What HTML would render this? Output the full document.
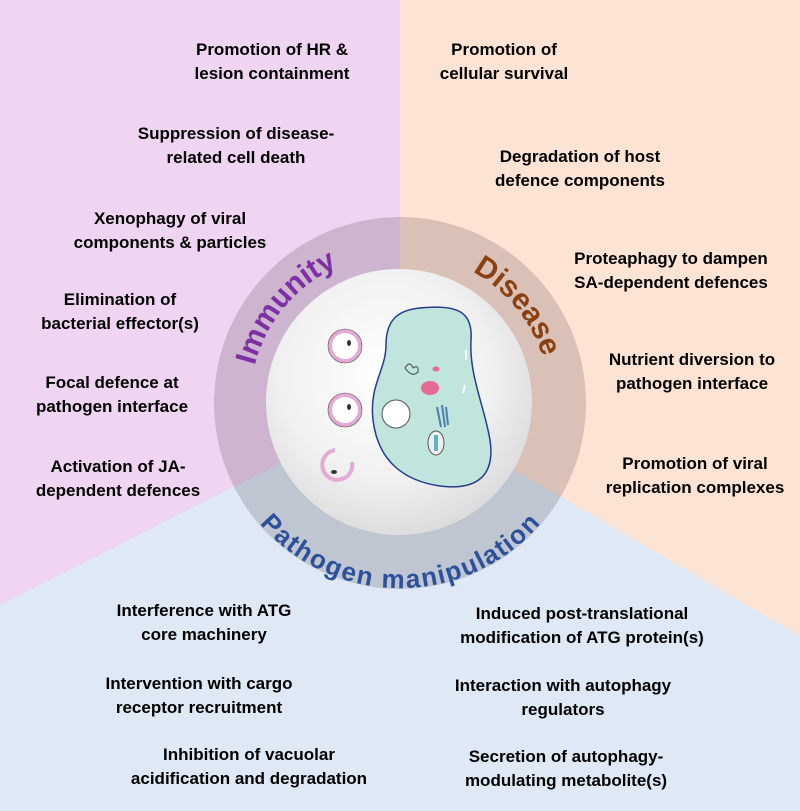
<!DOCTYPE html>
<html><head><meta charset="utf-8"><style>
html,body{margin:0;padding:0}
body{width:800px;height:811px;overflow:hidden;position:relative;font-family:"Liberation Sans",Arial,sans-serif}
svg{position:absolute;left:0;top:0}
.t{position:absolute;font-weight:bold;font-size:17px;line-height:24px;color:#000;text-align:center;white-space:nowrap;transform:translateX(-50%)}
</style></head><body>
<svg width="800" height="811" viewBox="0 0 800 811">
<defs>
<radialGradient id="g" cx="0.45" cy="0.4" r="0.65"><stop offset="0" stop-color="#ffffff"/><stop offset="0.6" stop-color="#f1f1f1"/><stop offset="1" stop-color="#d8d8d8"/></radialGradient>
<path id="arcL" d="M 400 403 m -150 0 a 150 150 0 0 1 150 -150 a 150 150 0 0 1 150 150"/>
<path id="arcB" d="M 234 403 a 166 166 0 0 0 332 0"/>
</defs>
<rect x="0" y="0" width="400" height="811" fill="#efd5f1"/>
<rect x="400" y="0" width="400" height="811" fill="#fde3d4"/>
<polygon points="400,403 0,605 0,811 800,811 800,636" fill="#dfe8f5"/>
<circle cx="400" cy="403" r="186" fill="rgba(30,20,30,0.16)"/>
<circle cx="399" cy="402" r="133" fill="url(#g)"/>
<text font-size="30" font-weight="bold" fill="#7d2fa3"><textPath href="#arcL" startOffset="8%">Immunity</textPath></text>
<text font-size="30" font-weight="bold" fill="#8a4010"><textPath href="#arcL" startOffset="66%">Disease</textPath></text>
<text font-size="26" font-weight="bold" fill="#2c519b"><textPath href="#arcB" startOffset="50%" text-anchor="middle" dominant-baseline="hanging">Pathogen manipulation</textPath></text>
<path d="M 420 308 C 458 304 473 312 471 340 C 469 375 484 405 490 440 C 496 480 472 490 440 486 C 405 481 378 462 373 420 C 369 385 386 370 386 345 C 386 318 400 310 420 308 Z" fill="#bfe5dc" stroke="#2a3a8a" stroke-width="1.5"/>
<ellipse cx="430" cy="388" rx="9" ry="7" fill="#e56a94"/>
<ellipse cx="436" cy="369" rx="3.5" ry="2.5" fill="#e56a94"/>
<path d="M 466 350 L 466 360 M 465 385 L 463 393" stroke="#fff" stroke-width="2"/>
<circle cx="396" cy="414" r="14" fill="#fff" stroke="#555" stroke-width="1"/>
<ellipse cx="436" cy="443" rx="8" ry="12" fill="#eee" stroke="#555"/>
<rect x="434" y="435" width="4" height="16" fill="#5bb5c8"/>
<path d="M 437 407 l 4 20 M 442 405 l 3 22 M 446 407 l 2 18" stroke="#4a7fb0" stroke-width="2"/>
<path d="M 405 368 q 5 -8 8 0 q 6 -4 5 4 q -6 6 -13 -4" fill="none" stroke="#444"/>
<circle cx="345" cy="346" r="15" fill="#fff" stroke="#e4a9d5" stroke-width="4"/>
<circle cx="345" cy="346" r="17" fill="none" stroke="#555" stroke-width="0.6"/>
<circle cx="345" cy="410" r="15" fill="#fff" stroke="#e4a9d5" stroke-width="4"/>
<circle cx="345" cy="410" r="17" fill="none" stroke="#555" stroke-width="0.6"/>
<path d="M 335 450 A 15 15 0 1 0 352 462" fill="none" stroke="#e4a9d5" stroke-width="4"/>
<ellipse cx="349" cy="343" rx="2" ry="3" fill="#333"/>
<ellipse cx="349" cy="407" rx="2" ry="3" fill="#333"/>
<ellipse cx="334" cy="472" rx="3" ry="2" fill="#333"/>
</svg>
<div class="t" style="left:272px;top:38px">Promotion of HR &amp;<br>lesion containment</div>
<div class="t" style="left:236px;top:122px">Suppression of disease-<br>related cell death</div>
<div class="t" style="left:170px;top:207px">Xenophagy of viral<br>components &amp; particles</div>
<div class="t" style="left:120px;top:288px">Elimination of<br>bacterial effector(s)</div>
<div class="t" style="left:112px;top:371px">Focal defence at<br>pathogen interface</div>
<div class="t" style="left:118px;top:455px">Activation of JA-<br>dependent defences</div>
<div class="t" style="left:504px;top:38px">Promotion of<br>cellular survival</div>
<div class="t" style="left:580px;top:145px">Degradation of host<br>defence components</div>
<div class="t" style="left:671px;top:247px">Proteaphagy to dampen<br>SA-dependent defences</div>
<div class="t" style="left:692px;top:348px">Nutrient diversion to<br>pathogen interface</div>
<div class="t" style="left:695px;top:452px">Promotion of viral<br>replication complexes</div>
<div class="t" style="left:204px;top:599px">Interference with ATG<br>core machinery</div>
<div class="t" style="left:199px;top:672px">Intervention with cargo<br>receptor recruitment</div>
<div class="t" style="left:249px;top:743px">Inhibition of vacuolar<br>acidification and degradation</div>
<div class="t" style="left:582px;top:602px">Induced post-translational<br>modification of ATG protein(s)</div>
<div class="t" style="left:563px;top:674px">Interaction with autophagy<br>regulators</div>
<div class="t" style="left:566px;top:745px">Secretion of autophagy-<br>modulating metabolite(s)</div>
</body></html>
